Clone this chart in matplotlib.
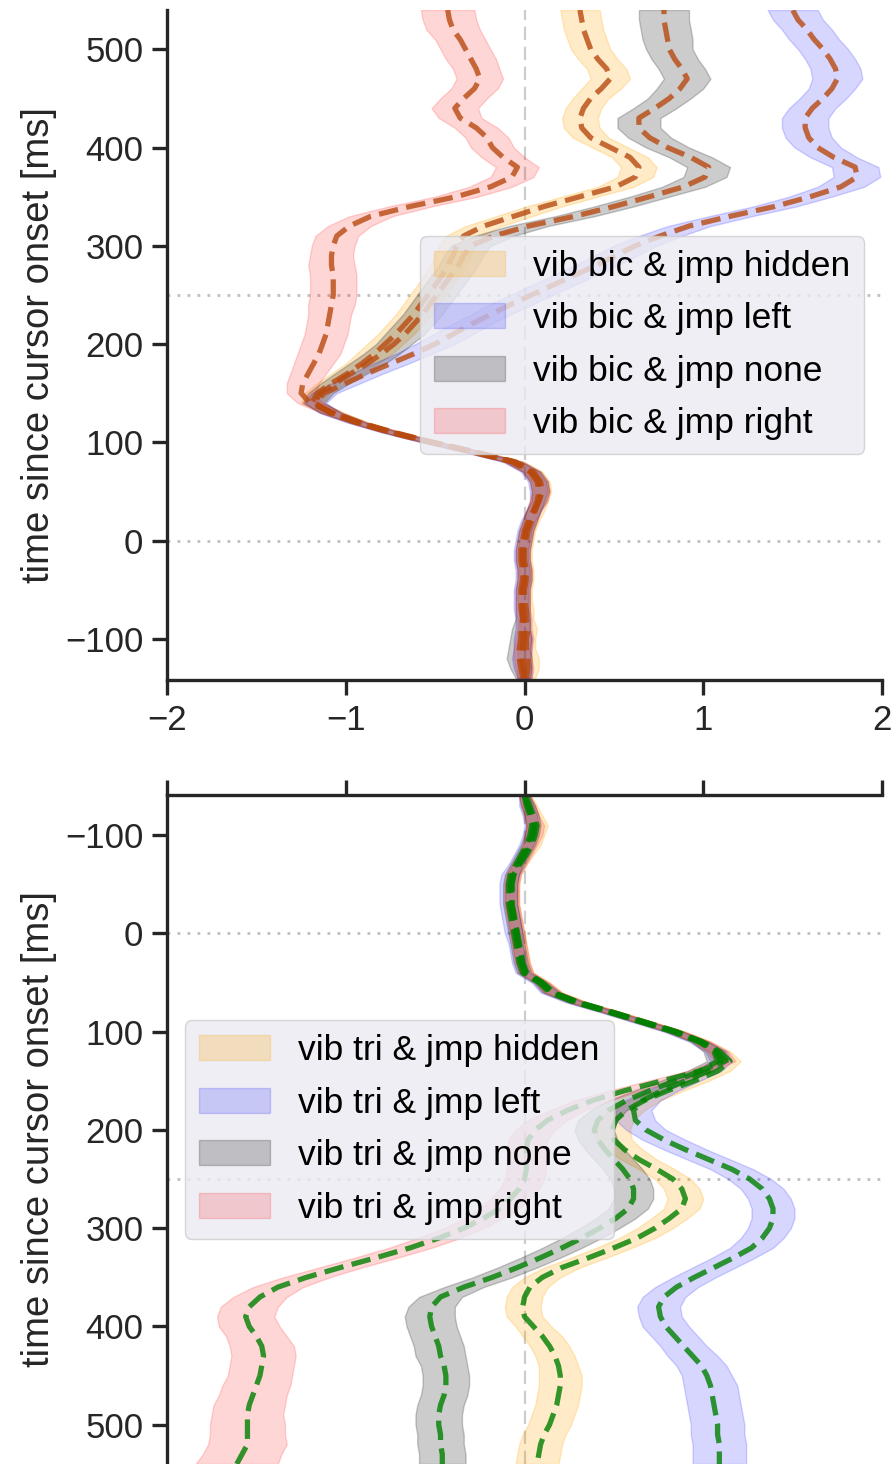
import matplotlib
matplotlib.use('Agg')
import matplotlib.pyplot as plt
import numpy as np

plt.rcParams['font.family'] = ['Liberation Sans', 'DejaVu Sans']
plt.rcParams['axes.unicode_minus'] = True

# sample times of the averaged trajectories [ms]
time_ms = np.arange(-140, 541, 10)

conds = ['hidden', 'left', 'none', 'right']
fill_colors = ['orange', 'blue', 'black', 'red']
fill_alpha = [0.22, 0.16, 0.2, 0.16]

# ---- biceps vibration: mean horizontal position and CI half width ----
bic_hidden = [0.01, 0.02, 0.02, 0.01, 0.01, 0.02, 0.01, 0.01, 0.00, 0.00, 0.01, 0.01, 0.00, 0.00,
              0.01, 0.02, 0.04, 0.06, 0.08, 0.10, 0.09, 0.05, -0.05, -0.27, -0.51, -0.73, -0.92, -1.07,
              -1.19, -1.16, -1.08, -0.99, -0.91, -0.84, -0.78, -0.72, -0.67, -0.62, -0.58, -0.54, -0.50,
              -0.46, -0.43, -0.40, -0.38, -0.34, -0.23, -0.06, 0.11, 0.31, 0.51, 0.62, 0.64, 0.59, 0.48,
              0.37, 0.32, 0.31, 0.33, 0.37, 0.43, 0.48, 0.46, 0.41, 0.37, 0.35, 0.33, 0.32, 0.31]
bic_left = [0.00, -0.01, -0.02, -0.01, -0.01, -0.01, -0.01, -0.02, -0.02, -0.02, -0.01, -0.01, -0.02, -0.02,
            -0.01, 0.00, 0.02, 0.05, 0.07, 0.08, 0.07, 0.03, -0.07, -0.29, -0.53, -0.75, -0.94, -1.09,
            -1.17, -1.12, -1.00, -0.88, -0.75, -0.62, -0.50, -0.40, -0.30, -0.19, -0.08, 0.04, 0.16,
            0.28, 0.40, 0.51, 0.62, 0.76, 0.92, 1.15, 1.40, 1.60, 1.77, 1.86, 1.85, 1.73, 1.64,
            1.59, 1.57, 1.57, 1.61, 1.67, 1.72, 1.75, 1.74, 1.71, 1.67, 1.62, 1.58, 1.53, 1.50]
bic_none = [-0.01, -0.02, -0.03, -0.03, -0.02, -0.02, -0.01, -0.01, -0.01, -0.01, 0.00, 0.00, -0.01, -0.01,
            0.00, 0.01, 0.03, 0.05, 0.08, 0.09, 0.08, 0.04, -0.06, -0.28, -0.52, -0.74, -0.93, -1.08,
            -1.18, -1.14, -1.06, -0.97, -0.88, -0.80, -0.73, -0.67, -0.62, -0.57, -0.53, -0.49, -0.45,
            -0.41, -0.37, -0.34, -0.30, -0.17, 0.02, 0.28, 0.50, 0.70, 0.89, 1.01, 1.03, 0.93, 0.80,
            0.70, 0.64, 0.64, 0.73, 0.81, 0.87, 0.91, 0.88, 0.84, 0.81, 0.80, 0.79, 0.78, 0.78]
bic_right = [0.00, 0.00, -0.01, -0.01, 0.00, 0.00, 0.00, -0.01, -0.01, -0.01, 0.00, 0.00, -0.01, -0.01,
             0.00, 0.01, 0.03, 0.05, 0.08, 0.09, 0.08, 0.04, -0.06, -0.28, -0.52, -0.74, -0.93, -1.08,
             -1.20, -1.25, -1.24, -1.21, -1.18, -1.15, -1.13, -1.11, -1.10, -1.09, -1.08, -1.07, -1.07,
             -1.07, -1.08, -1.08, -1.07, -1.05, -0.98, -0.86, -0.64, -0.38, -0.19, -0.07, -0.04, -0.12, -0.18,
             -0.21, -0.27, -0.36, -0.39, -0.34, -0.28, -0.25, -0.27, -0.30, -0.33, -0.36, -0.40, -0.42, -0.43]

bic_hidden_ci = [0.05, 0.06, 0.06, 0.05, 0.05, 0.05, 0.04, 0.04, 0.04, 0.04, 0.04, 0.04, 0.04, 0.04,
                 0.04, 0.04, 0.04, 0.05, 0.05, 0.05, 0.05, 0.05, 0.05, 0.05, 0.05, 0.05, 0.05, 0.06,
                 0.06, 0.07, 0.08, 0.09, 0.09, 0.10, 0.10, 0.10, 0.10, 0.10, 0.10, 0.10, 0.10,
                 0.10, 0.10, 0.10, 0.10, 0.10, 0.10, 0.10, 0.10, 0.10, 0.10, 0.10, 0.10, 0.10, 0.10,
                 0.10, 0.10, 0.10, 0.10, 0.10, 0.11, 0.11, 0.11, 0.11, 0.11, 0.11, 0.11, 0.11, 0.11]
bic_left_ci = [0.04, 0.05, 0.05, 0.05, 0.05, 0.04, 0.04, 0.04, 0.04, 0.04, 0.04, 0.04, 0.04, 0.04,
               0.04, 0.04, 0.04, 0.04, 0.04, 0.05, 0.05, 0.05, 0.05, 0.05, 0.05, 0.05, 0.05, 0.06,
               0.06, 0.07, 0.08, 0.09, 0.10, 0.10, 0.11, 0.11, 0.11, 0.11, 0.12, 0.12, 0.12,
               0.12, 0.12, 0.12, 0.12, 0.12, 0.12, 0.12, 0.12, 0.12, 0.13, 0.13, 0.13, 0.13, 0.13,
               0.13, 0.13, 0.13, 0.13, 0.13, 0.13, 0.14, 0.14, 0.14, 0.14, 0.14, 0.14, 0.14, 0.14]
bic_none_ci = [0.04, 0.06, 0.07, 0.06, 0.06, 0.05, 0.04, 0.04, 0.04, 0.04, 0.04, 0.04, 0.04, 0.04,
               0.04, 0.04, 0.04, 0.04, 0.04, 0.05, 0.05, 0.05, 0.05, 0.05, 0.05, 0.05, 0.05, 0.06,
               0.06, 0.07, 0.08, 0.09, 0.10, 0.10, 0.10, 0.11, 0.11, 0.11, 0.11, 0.11, 0.11,
               0.11, 0.11, 0.11, 0.11, 0.11, 0.11, 0.11, 0.11, 0.11, 0.12, 0.12, 0.12, 0.12, 0.12,
               0.12, 0.12, 0.12, 0.12, 0.12, 0.13, 0.13, 0.13, 0.13, 0.13, 0.14, 0.14, 0.14, 0.14]
bic_right_ci = [0.04, 0.05, 0.05, 0.05, 0.05, 0.04, 0.04, 0.04, 0.04, 0.04, 0.04, 0.04, 0.04, 0.04,
                0.04, 0.04, 0.04, 0.04, 0.05, 0.05, 0.05, 0.05, 0.05, 0.05, 0.05, 0.05, 0.05, 0.06,
                0.07, 0.08, 0.09, 0.10, 0.11, 0.12, 0.12, 0.12, 0.12, 0.12, 0.13, 0.13, 0.13,
                0.13, 0.13, 0.12, 0.12, 0.12, 0.12, 0.12, 0.12, 0.12, 0.12, 0.12, 0.12, 0.12, 0.12,
                0.12, 0.12, 0.12, 0.13, 0.13, 0.13, 0.13, 0.13, 0.14, 0.14, 0.14, 0.15, 0.15, 0.15]

# ---- triceps vibration ----
tri_hidden = [0.01, 0.03, 0.05, 0.07, 0.06, 0.04, 0.01, -0.03, -0.06, -0.07, -0.07, -0.07, -0.06, -0.05,
              -0.04, -0.03, -0.02, -0.01, 0.01, 0.10, 0.16, 0.30, 0.49, 0.67, 0.85, 0.99,
              1.09, 1.15, 1.08, 0.95, 0.80, 0.67, 0.57, 0.51, 0.49, 0.50, 0.56, 0.64, 0.74, 0.83, 0.88,
              0.90, 0.88, 0.81, 0.73, 0.63, 0.50, 0.36, 0.21, 0.10, 0.03, 0.00, -0.01, 0.00, 0.05,
              0.10, 0.14, 0.17, 0.19, 0.20, 0.20, 0.19, 0.18, 0.16, 0.14, 0.11, 0.09, 0.08, 0.07]
tri_left = [0.00, 0.01, 0.03, 0.04, 0.03, 0.01, -0.02, -0.05, -0.08, -0.09, -0.09, -0.09, -0.08, -0.07,
            -0.06, -0.05, -0.04, -0.03, -0.01, 0.08, 0.14, 0.28, 0.47, 0.65, 0.83, 0.97,
            1.07, 1.10, 1.03, 0.90, 0.77, 0.66, 0.61, 0.62, 0.68, 0.78, 0.90, 1.03, 1.16, 1.26, 1.33,
            1.37, 1.39, 1.39, 1.37, 1.33, 1.27, 1.17, 1.06, 0.95, 0.85, 0.78, 0.75, 0.76, 0.79,
            0.84, 0.89, 0.94, 0.99, 1.02, 1.04, 1.05, 1.06, 1.07, 1.08, 1.08, 1.09, 1.09, 1.09]
tri_none = [0.00, 0.02, 0.04, 0.05, 0.04, 0.02, -0.01, -0.04, -0.07, -0.08, -0.08, -0.08, -0.07, -0.06,
            -0.05, -0.04, -0.03, -0.02, 0.00, 0.09, 0.15, 0.29, 0.48, 0.66, 0.84, 0.98,
            1.06, 1.08, 0.98, 0.84, 0.70, 0.57, 0.47, 0.41, 0.39, 0.41, 0.45, 0.50, 0.55, 0.59, 0.61,
            0.61, 0.58, 0.51, 0.42, 0.32, 0.21, 0.09, -0.04, -0.18, -0.34, -0.47, -0.52, -0.53, -0.52,
            -0.50, -0.48, -0.47, -0.45, -0.44, -0.44, -0.45, -0.47, -0.48, -0.48, -0.47, -0.47, -0.46, -0.46]
tri_right = [0.00, 0.02, 0.04, 0.06, 0.05, 0.03, 0.00, -0.03, -0.06, -0.07, -0.07, -0.07, -0.06, -0.05,
             -0.04, -0.03, -0.02, -0.01, 0.01, 0.10, 0.16, 0.30, 0.49, 0.67, 0.85, 0.99,
             1.08, 1.12, 0.98, 0.77, 0.56, 0.38, 0.24, 0.13, 0.06, 0.02, 0.01, 0.01, 0.01, 0.00, -0.03,
             -0.08, -0.14, -0.23, -0.34, -0.48, -0.64, -0.83, -1.03, -1.22, -1.38, -1.48, -1.54, -1.56, -1.54,
             -1.50, -1.47, -1.46, -1.47, -1.48, -1.50, -1.52, -1.54, -1.55, -1.55, -1.55, -1.55, -1.58, -1.61]

tri_hidden_ci = [0.03, 0.04, 0.05, 0.06, 0.05, 0.05, 0.04, 0.04, 0.04, 0.04, 0.04, 0.04, 0.04, 0.04,
                 0.04, 0.04, 0.04, 0.04, 0.04, 0.04, 0.05, 0.05, 0.05, 0.05, 0.05, 0.05,
                 0.06, 0.06, 0.07, 0.08, 0.09, 0.09, 0.10, 0.10, 0.10, 0.10, 0.10, 0.10, 0.10, 0.10, 0.10,
                 0.10, 0.10, 0.10, 0.10, 0.10, 0.10, 0.10, 0.10, 0.10, 0.10, 0.10, 0.10, 0.10, 0.10,
                 0.11, 0.11, 0.11, 0.11, 0.12, 0.12, 0.12, 0.12, 0.12, 0.12, 0.12, 0.12, 0.12, 0.12]
tri_left_ci = [0.03, 0.04, 0.04, 0.04, 0.04, 0.04, 0.04, 0.04, 0.05, 0.05, 0.05, 0.05, 0.05, 0.05,
               0.05, 0.04, 0.04, 0.04, 0.04, 0.04, 0.05, 0.05, 0.05, 0.05, 0.05, 0.05,
               0.06, 0.06, 0.07, 0.08, 0.09, 0.10, 0.10, 0.11, 0.11, 0.12, 0.12, 0.12, 0.12, 0.12, 0.12,
               0.12, 0.12, 0.12, 0.12, 0.12, 0.12, 0.12, 0.12, 0.12, 0.12, 0.12, 0.12, 0.12, 0.13,
               0.13, 0.13, 0.14, 0.14, 0.14, 0.15, 0.15, 0.15, 0.15, 0.15, 0.15, 0.15, 0.15, 0.15]
tri_none_ci = [0.03, 0.04, 0.04, 0.04, 0.04, 0.04, 0.04, 0.04, 0.04, 0.04, 0.04, 0.04, 0.04, 0.04,
               0.04, 0.04, 0.04, 0.04, 0.04, 0.04, 0.05, 0.05, 0.05, 0.05, 0.05, 0.05,
               0.06, 0.06, 0.07, 0.08, 0.09, 0.10, 0.10, 0.11, 0.11, 0.11, 0.11, 0.11, 0.11, 0.11, 0.11,
               0.11, 0.11, 0.11, 0.11, 0.11, 0.11, 0.11, 0.11, 0.11, 0.11, 0.12, 0.13, 0.14, 0.14,
               0.14, 0.14, 0.14, 0.13, 0.13, 0.13, 0.13, 0.13, 0.13, 0.13, 0.13, 0.13, 0.13, 0.13]
tri_right_ci = [0.03, 0.04, 0.04, 0.05, 0.05, 0.04, 0.04, 0.04, 0.04, 0.04, 0.04, 0.04, 0.04, 0.04,
                0.04, 0.04, 0.04, 0.04, 0.04, 0.04, 0.05, 0.05, 0.05, 0.05, 0.05, 0.05,
                0.06, 0.06, 0.07, 0.08, 0.09, 0.10, 0.10, 0.11, 0.11, 0.11, 0.11, 0.11, 0.11, 0.11, 0.11,
                0.11, 0.11, 0.11, 0.11, 0.12, 0.12, 0.12, 0.12, 0.13, 0.14, 0.15, 0.16, 0.16, 0.17,
                0.17, 0.18, 0.18, 0.18, 0.18, 0.19, 0.19, 0.20, 0.20, 0.21, 0.21, 0.22, 0.22, 0.23]

bic_means = [bic_hidden, bic_left, bic_none, bic_right]
bic_cis = [bic_hidden_ci, bic_left_ci, bic_none_ci, bic_right_ci]
tri_means = [tri_hidden, tri_left, tri_none, tri_right]
tri_cis = [tri_hidden_ci, tri_left_ci, tri_none_ci, tri_right_ci]

ink = '.15'
fig = plt.figure(figsize=(8.96, 14.64), dpi=100)
ax_top = fig.add_axes([0.1864, 0.5355, 0.798, 0.4577])
ax_bot = fig.add_axes([0.1864, 0.0, 0.798, 0.4570])


def draw_panel(ax, means, cis, muscle, line_color):
    ax.axvline(0, color='0.8', lw=1.6, dashes=(6, 3), zorder=0)
    ax.axhline(0, color='0.75', lw=2, dashes=(1, 2.6), zorder=0)
    ax.axhline(250, color='0.75', lw=2, dashes=(1, 2.6), zorder=0)
    for mean, ci, cond, fc, fa in zip(means, cis, conds, fill_colors, fill_alpha):
        mean = np.array(mean)
        ci = np.array(ci)
        ax.fill_betweenx(time_ms, mean - ci, mean + ci, color=fc, alpha=fa, lw=1,
                         label=f'vib {muscle} & jmp {cond}')
        ax.plot(mean, time_ms, ls='--', color=line_color, lw=3.8, alpha=0.8)
    ax.set_xlim(-2, 2)
    ax.set_xticks([-2, -1, 0, 1, 2])
    ax.set_yticks([-100, 0, 100, 200, 300, 400, 500])
    ax.set_ylabel('time since cursor onset [ms]', fontsize=27.5, color=ink, labelpad=6)
    ax.tick_params(labelsize=25, length=11, width=2.4, color=ink, labelcolor=ink, pad=6)
    for sp in ax.spines.values():
        sp.set_linewidth(2.4)
        sp.set_color(ink)


draw_panel(ax_top, bic_means, bic_cis, 'bic', '#B84A10')
ax_top.set_ylim(-142, 540)
ax_top.spines['top'].set_visible(False)
ax_top.spines['right'].set_visible(False)
ax_top.legend(loc='center right', fontsize=25.5, facecolor='#EAEAF2', edgecolor='0.8',
              framealpha=0.8, labelspacing=0.55, handletextpad=0.8)

draw_panel(ax_bot, tri_means, tri_cis, 'tri', 'green')
ax_bot.set_ylim(540, -141)
ax_bot.xaxis.tick_top()
ax_bot.tick_params(axis='x', labeltop=False)
ax_bot.spines['bottom'].set_visible(False)
ax_bot.spines['right'].set_visible(False)
ax_bot.legend(loc='center left', fontsize=25.5, facecolor='#EAEAF2', edgecolor='0.8',
              framealpha=0.8, labelspacing=0.55, handletextpad=0.8)

fig.savefig('out.png', dpi=100)
